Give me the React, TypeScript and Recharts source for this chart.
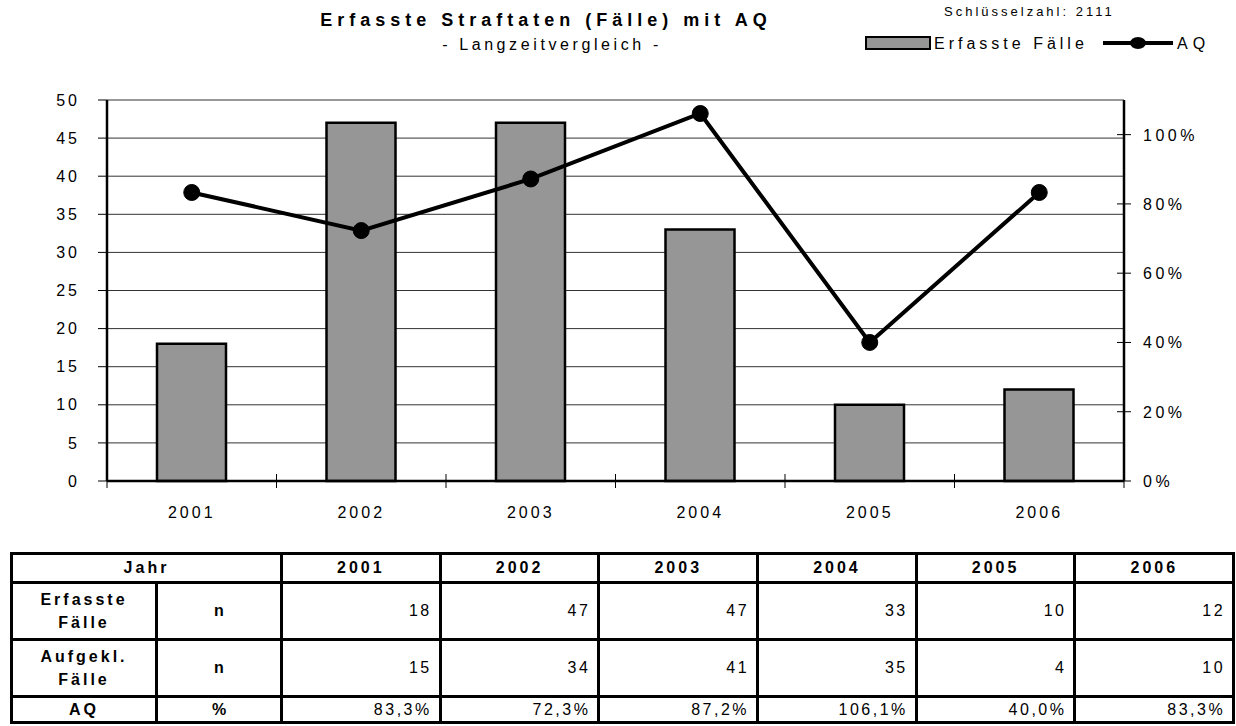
import { Bar, CartesianGrid, ComposedChart, Line, XAxis, YAxis } from "recharts";

const years = ["2001", "2002", "2003", "2004", "2005", "2006"];
const erfassteFaelle = [18, 47, 47, 33, 10, 12];
const aufgeklaerteFaelle = [15, 34, 41, 35, 4, 10];
const aqValues = [0.833, 0.723, 0.872, 1.061, 0.4, 0.833];
const aqLabels = ["83,3%", "72,3%", "87,2%", "106,1%", "40,0%", "83,3%"];
const leftTicks = [0, 5, 10, 15, 20, 25, 30, 35, 40, 45, 50];
const rightTicks = [0, 0.2, 0.4, 0.6, 0.8, 1.0];

const chartData = years.map((year, i) => ({
  year,
  faelle: erfassteFaelle[i],
  aq: aqValues[i],
}));

const FONT = '"Liberation Sans", Arial, sans-serif';

const YearTick = (props: any) => {
  const { x, y, payload, index } = props;
  const half = payload && payload.offset ? payload.offset : 84.75;
  return (
    <g>
      <line x1={x - half} x2={x - half} y1={y - 7} y2={y + 7} stroke="#000" strokeWidth={1} />
      {index === years.length - 1 && (
        <line x1={x + half} x2={x + half} y1={y - 7} y2={y + 7} stroke="#000" strokeWidth={1} />
      )}
      <text x={x} y={y + 37} textAnchor="middle" fontFamily={FONT} fontSize={16} letterSpacing={3} fill="#000">
        {payload.value}
      </text>
    </g>
  );
};

const PercentTick = (props: any) => {
  const { x, y, payload } = props;
  return (
    <g>
      <line x1={x - 7} x2={x + 7} y1={y} y2={y} stroke="#000" strokeWidth={1} />
      <text x={x + 19} y={y + 6} textAnchor="start" fontFamily={FONT} fontSize={16} letterSpacing={3.5} fill="#000">
        {Math.round(payload.value * 100) + "%"}
      </text>
    </g>
  );
};

const cellBorder = "3px solid #000";
const headCell = { border: cellBorder, textAlign: "center" as const, fontWeight: "bold" as const, letterSpacing: 3, padding: 0 };
const valueCell = { border: cellBorder, textAlign: "right" as const, letterSpacing: 2.5, padding: "0 7px 0 0" };

const App = () => {
  return (
    <div style={{ position: "absolute", left: 0, top: 0, width: 1236, height: 726, background: "#fff", fontFamily: FONT }}>
      <div
        style={{
          position: "absolute",
          left: 226,
          width: 640,
          top: 9,
          textAlign: "center",
          fontSize: 18,
          fontWeight: "bold",
          letterSpacing: 5,
          lineHeight: "22px",
          whiteSpace: "nowrap",
        }}
      >
        Erfasste Straftaten (Fälle) mit AQ
      </div>
      <div
        style={{
          position: "absolute",
          left: 232,
          width: 640,
          top: 35,
          textAlign: "center",
          fontSize: 16,
          letterSpacing: 3.6,
          lineHeight: "20px",
          whiteSpace: "nowrap",
        }}
      >
        - Langzeitvergleich -
      </div>
      <div style={{ position: "absolute", left: 944, top: 4, fontSize: 13, letterSpacing: 3, lineHeight: "16px", whiteSpace: "nowrap" }}>
        Schlüsselzahl: 2111
      </div>
      {/* legend */}
      <div
        style={{
          position: "absolute",
          left: 865,
          top: 36,
          width: 62,
          height: 10,
          background: "#969696",
          border: "2px solid #000",
        }}
      />
      <div style={{ position: "absolute", left: 934, top: 34, fontSize: 16, letterSpacing: 4, lineHeight: "20px", whiteSpace: "nowrap" }}>
        Erfasste Fälle
      </div>
      <svg style={{ position: "absolute", left: 1100, top: 31 }} width={76} height={24}>
        <line x1={3} x2={73} y1={12} y2={12} stroke="#000" strokeWidth={4} />
        <ellipse cx={38} cy={12} rx={8} ry={6} fill="#000" />
      </svg>
      <div style={{ position: "absolute", left: 1177, top: 34, fontSize: 16, letterSpacing: 5, lineHeight: "20px" }}>
        AQ
      </div>

      <div style={{ position: "absolute", left: 0, top: 0 }}>
        <ComposedChart
          width={1236}
          height={540}
          data={chartData}
          margin={{ top: 100, right: 42, bottom: 19, left: 47 }}
        >
          <CartesianGrid vertical={false} horizontal stroke="#333" strokeWidth={1} yAxisId="left" />
          <XAxis
            dataKey="year"
            xAxisId="top"
            orientation="top"
            height={0}
            tick={false}
            tickLine={false}
            axisLine={{ stroke: "#000", strokeWidth: 2 }}
          />
          <XAxis
            dataKey="year"
            height={40}
            tickSize={0}
            tickMargin={0}
            tickLine={false}
            axisLine={{ stroke: "#000", strokeWidth: 2.5 }}
            tick={<YearTick />}
            interval={0}
          />
          <YAxis
            yAxisId="left"
            width={60}
            domain={[0, 50]}
            ticks={leftTicks}
            interval={0}
            tickSize={9}
            tickMargin={18}
            axisLine={{ stroke: "#000", strokeWidth: 2.5 }}
            tickLine={{ stroke: "#000", strokeWidth: 1 }}
            tick={{ fill: "#000", fontSize: 16, fontFamily: FONT, letterSpacing: 3 }}
          />
          <YAxis
            yAxisId="right"
            orientation="right"
            width={70}
            domain={[0, 1.1]}
            ticks={rightTicks}
            interval={0}
            tickSize={0}
            tickMargin={0}
            tickLine={false}
            axisLine={{ stroke: "#000", strokeWidth: 2.5 }}
            tick={<PercentTick />}
          />
          <Bar
            yAxisId="left"
            dataKey="faelle"
            fill="#969696"
            stroke="#000"
            strokeWidth={2.5}
            barSize={69}
            isAnimationActive={false}
          />
          <Line
            yAxisId="right"
            dataKey="aq"
            type="linear"
            stroke="#000"
            strokeWidth={4}
            dot={{ r: 8, fill: "#000", stroke: "#000", strokeWidth: 1 }}
            activeDot={false}
            isAnimationActive={false}
          />
        </ComposedChart>
      </div>

      <table
        style={{
          position: "absolute",
          left: 10,
          top: 552,
          width: 1222,
          borderCollapse: "collapse",
          tableLayout: "fixed",
          fontFamily: FONT,
          fontSize: 16,
          color: "#000",
        }}
      >
        <colgroup>
          <col style={{ width: 145 }} />
          <col style={{ width: 125 }} />
          {years.map((y) => (
            <col key={y} style={{ width: 158.7 }} />
          ))}
        </colgroup>
        <tbody>
          <tr style={{ height: 29 }}>
            <td colSpan={2} style={headCell}>
              Jahr
            </td>
            {years.map((y) => (
              <td key={y} style={headCell}>
                {y}
              </td>
            ))}
          </tr>
          <tr style={{ height: 57 }}>
            <td style={{ ...headCell, lineHeight: "23px" }}>
              Erfasste
              <br />
              Fälle
            </td>
            <td style={{ ...headCell, letterSpacing: 0 }}>n</td>
            {erfassteFaelle.map((v, i) => (
              <td key={i} style={valueCell}>
                {v}
              </td>
            ))}
          </tr>
          <tr style={{ height: 57 }}>
            <td style={{ ...headCell, lineHeight: "23px" }}>
              Aufgekl.
              <br />
              Fälle
            </td>
            <td style={{ ...headCell, letterSpacing: 0 }}>n</td>
            {aufgeklaerteFaelle.map((v, i) => (
              <td key={i} style={valueCell}>
                {v}
              </td>
            ))}
          </tr>
          <tr style={{ height: 26 }}>
            <td style={headCell}>AQ</td>
            <td style={{ ...headCell, letterSpacing: 0 }}>%</td>
            {aqLabels.map((v, i) => (
              <td key={i} style={valueCell}>
                {v}
              </td>
            ))}
          </tr>
        </tbody>
      </table>
    </div>
  );
};

export default App;
